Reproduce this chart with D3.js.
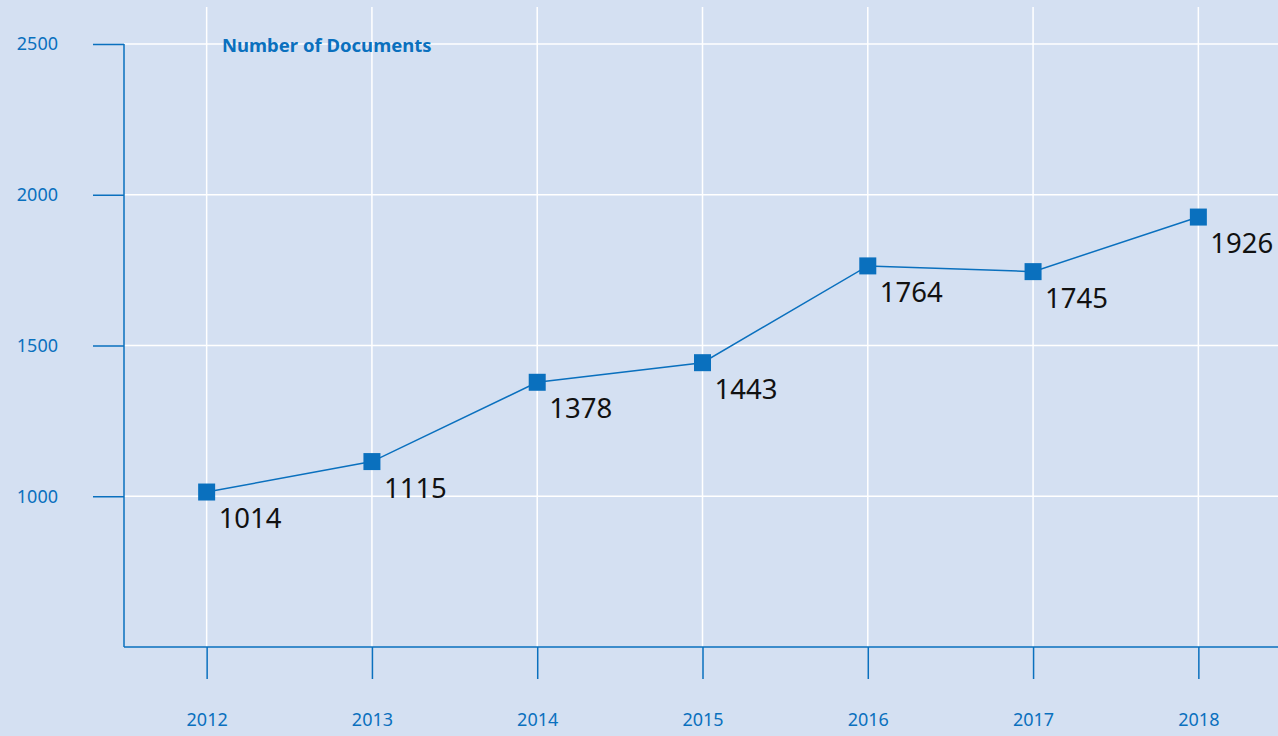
<!DOCTYPE html>
<html>
<head>
<meta charset="utf-8">
<script src="https://cdn.jsdelivr.net/npm/d3@7"></script>
<style>
  html, body { margin: 0; padding: 0; background: #d4e0f2; }
  svg { display: block; font-family: "Noto Sans", "Open Sans", sans-serif; }
</style>
</head>
<body>
<svg id="chart" width="1278" height="736"></svg>
<script>
// chart values
const years = ["2012", "2013", "2014", "2015", "2016", "2017", "2018"];
const documents = [1014, 1115, 1378, 1443, 1764, 1745, 1926];
const yTicks = [1000, 1500, 2000, 2500];
const title = "Number of Documents";

const blue = "#0a70be";
const svg = d3.select("#chart");

const plotLeft = 124, plotRight = 1281, plotTop = 44, plotBottom = 647;

const x = d3.scalePoint().domain(years).range([plotLeft, plotRight]).padding(0.5);
const y = d3.scaleLinear().domain([500, 2500]).range([plotBottom, plotTop]);

// white grid
svg.append("g").selectAll("line")
  .data(years).join("line")
  .attr("x1", d => x(d)).attr("x2", d => x(d))
  .attr("y1", 7).attr("y2", plotBottom)
  .attr("stroke", "#fff").attr("stroke-width", 1.5);

svg.append("g").selectAll("line")
  .data(yTicks).join("line")
  .attr("x1", plotLeft).attr("x2", 1278)
  .attr("y1", d => y(d)).attr("y2", d => y(d))
  .attr("stroke", "#fff").attr("stroke-width", 1.5);

// y axis
const yAxis = svg.append("g")
  .attr("transform", `translate(${plotLeft},0)`)
  .call(d3.axisLeft(y).tickValues(yTicks).tickSize(31).tickPadding(35).tickFormat(d3.format("d")));
yAxis.select(".domain").remove();
yAxis.append("line").attr("class", "axisline")
  .attr("x1", 0).attr("x2", 0).attr("y1", plotTop).attr("y2", plotBottom);

// x axis
const xAxis = svg.append("g")
  .attr("transform", `translate(0,${plotBottom})`)
  .call(d3.axisBottom(x).tickSize(32).tickPadding(31));
xAxis.select(".domain").remove();
xAxis.append("line").attr("class", "axisline")
  .attr("x1", plotLeft).attr("x2", 1278).attr("y1", 0).attr("y2", 0);

svg.selectAll(".tick line, .axisline").attr("stroke", blue).attr("stroke-width", 1.5);
svg.selectAll(".tick text").attr("fill", blue).attr("font-size", 18);
xAxis.selectAll(".tick text").attr("dy", "0.9em");
yAxis.attr("font-family", null);
xAxis.attr("font-family", null);

// title
svg.append("text")
  .attr("x", 222).attr("y", 52)
  .attr("fill", blue).attr("font-size", 18.5).attr("font-weight", "bold")
  .text(title);

// line + markers
const data = years.map((yr, i) => ({ yr, v: documents[i] }));

svg.append("path")
  .datum(data)
  .attr("fill", "none").attr("stroke", blue).attr("stroke-width", 1.5)
  .attr("d", d3.line().x(d => x(d.yr)).y(d => y(d.v)));

svg.append("g").selectAll("rect")
  .data(data).join("rect")
  .attr("x", d => x(d.yr) - 8.5).attr("y", d => y(d.v) - 8.5)
  .attr("width", 17).attr("height", 17)
  .attr("fill", blue);

svg.append("g").selectAll("text")
  .data(data).join("text")
  .attr("x", d => x(d.yr) + 12).attr("y", d => y(d.v) + 36)
  .attr("font-size", 27.5).attr("fill", "#111")
  .text(d => d.v);
</script>
</body>
</html>
